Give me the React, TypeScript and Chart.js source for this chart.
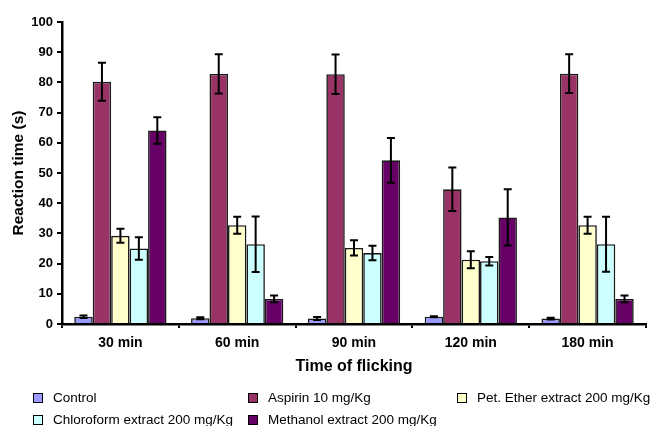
import React, { useEffect, useRef } from "react";
import { Chart, registerables } from "chart.js";

Chart.register(...registerables);

const categories = ["30 min", "60 min", "90 min", "120 min", "180 min"];
const seriesNames = [
  "Control",
  "Aspirin 10 mg/Kg",
  "Pet. Ether extract 200 mg/Kg",
  "Chloroform extract 200 mg/Kg",
  "Methanol extract 200 mg/Kg",
];
const seriesColors = ["#9999FF", "#993366", "#FFFFCC", "#CCFFFF", "#660066"];

const controlValues = [2.4, 1.9, 1.8, 2.4, 1.8];
const aspirinValues = [80.2, 82.8, 82.7, 44.6, 82.9];
const petEtherValues = [29.2, 32.7, 25.2, 21.3, 32.7];
const chloroformValues = [25.0, 26.4, 23.5, 20.8, 26.4];
const methanolValues = [64.1, 8.3, 54.2, 35.3, 8.3];

const controlErrors = [0.4, 0.3, 0.5, 0.2, 0.3];
const aspirinErrors = [6.3, 6.5, 6.5, 7.2, 6.4];
const petEtherErrors = [2.3, 2.8, 2.5, 2.8, 2.8];
const chloroformErrors = [3.7, 9.2, 2.4, 1.4, 9.1];
const methanolErrors = [4.4, 1.1, 7.4, 9.3, 1.1];

const yTicks = [0, 10, 20, 30, 40, 50, 60, 70, 80, 90, 100];

const allValues = [controlValues, aspirinValues, petEtherValues, chloroformValues, methanolValues];
const allErrors = [controlErrors, aspirinErrors, petEtherErrors, chloroformErrors, methanolErrors];

const FONT = "'Liberation Sans', Arial, Helvetica, sans-serif";

const errorBarPlugin = {
  id: "errorBars",
  afterDatasetsDraw(chart: any) {
    const ctx = chart.ctx;
    const yScale = chart.scales.y;
    ctx.save();
    ctx.strokeStyle = "#000";
    ctx.lineWidth = 2;
    chart.data.datasets.forEach((ds: any, di: number) => {
      const meta = chart.getDatasetMeta(di);
      const errs = ds.errors as number[];
      meta.data.forEach((bar: any, i: number) => {
        const v = ds.data[i];
        const e = errs[i];
        const x = bar.x;
        const yTop = yScale.getPixelForValue(v + e);
        const yBot = yScale.getPixelForValue(Math.max(0, v - e));
        const cap = 4;
        ctx.beginPath();
        ctx.moveTo(x, yTop);
        ctx.lineTo(x, yBot);
        ctx.moveTo(x - cap, yTop);
        ctx.lineTo(x + cap, yTop);
        ctx.moveTo(x - cap, yBot);
        ctx.lineTo(x + cap, yBot);
        ctx.stroke();
      });
    });
    ctx.restore();
  },
};

export default function App() {
  const canvasRef = useRef<HTMLCanvasElement | null>(null);

  useEffect(() => {
    if (!canvasRef.current) return;
    const chart = new Chart(canvasRef.current, {
      type: "bar",
      data: {
        labels: categories,
        datasets: seriesNames.map((name, i) => ({
          label: name,
          data: allValues[i],
          errors: allErrors[i],
          backgroundColor: seriesColors[i],
          borderColor: "#1a1a1a",
          borderWidth: 1.6,
          categoryPercentage: 0.79,
          barPercentage: 1.0,
        })) as any,
      },
      options: {
        responsive: false,
        animation: false,
        layout: { padding: { left: 0, top: 22, right: 10, bottom: 42 } },
        plugins: {
          legend: { display: false },
          tooltip: { enabled: false },
        },
        scales: {
          x: {
            grid: {
              drawOnChartArea: false,
              offset: true,
              tickLength: 4,
              color: "#000",
              lineWidth: 2,
            },
            border: { color: "#000", width: 2.5 },
            ticks: {
              color: "#000",
              font: { family: FONT, size: 14, weight: "bold" },
              padding: 7,
            },
            title: {
              display: true,
              text: "Time of flicking",
              color: "#000",
              font: { family: FONT, size: 16, weight: "bold" },
              padding: { top: 0, bottom: 8 },
            },
            afterFit: (s: any) => {
              s.height = 60;
            },
          },
          y: {
            min: 0,
            max: 100,
            afterBuildTicks: (s: any) => {
              s.ticks = yTicks.map((v) => ({ value: v }));
            },
            grid: {
              drawOnChartArea: false,
              tickLength: 5,
              color: "#000",
              lineWidth: 2,
            },
            border: { color: "#000", width: 2.5 },
            ticks: {
              color: "#000",
              font: { family: FONT, size: 13, weight: "bold" },
              padding: 4,
            },
            title: {
              display: true,
              text: "Reaction time (s)",
              color: "#000",
              font: { family: FONT, size: 15.5, weight: "bold" },
              padding: { top: 9, bottom: 0 },
            },
            afterFit: (s: any) => {
              s.width = 62;
            },
          },
        },
      } as any,
      plugins: [errorBarPlugin],
    });
    return () => chart.destroy();
  }, []);

  const legendPos = [
    { left: 33, top: 391 },
    { left: 248, top: 391 },
    { left: 457, top: 391 },
    { left: 33, top: 413 },
    { left: 248, top: 413 },
  ];

  return (
    <div style={{ position: "fixed", left: 0, top: 0, width: 656, height: 426, background: "#fff" }}>
      <canvas ref={canvasRef} width={656} height={426} style={{ width: 656, height: 426, display: "block" }} />
      {seriesNames.map((name, i) => (
        <div
          key={name}
          style={{
            position: "absolute",
            left: legendPos[i].left,
            top: legendPos[i].top,
            display: "flex",
            alignItems: "center",
            fontFamily: FONT,
            fontSize: 13.5,
            color: "#000",
            whiteSpace: "nowrap",
            lineHeight: "13px",
          }}
        >
          <span
            style={{
              display: "inline-block",
              width: 8,
              height: 8,
              background: seriesColors[i],
              border: "1.5px solid #000",
              marginRight: 10,
            }}
          />
          {name}
        </div>
      ))}
    </div>
  );
}
